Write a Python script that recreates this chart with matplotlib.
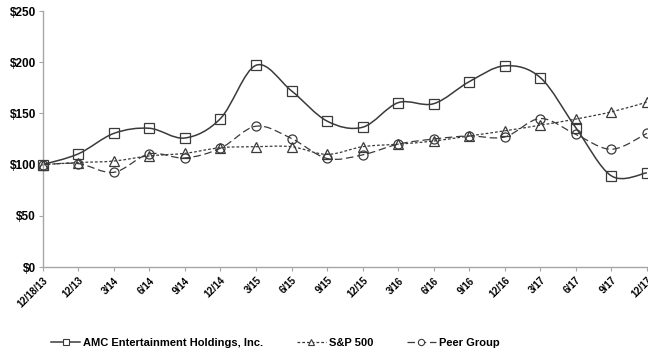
import numpy as np
import matplotlib
matplotlib.use("Agg")
import matplotlib.pyplot as plt
from matplotlib.path import Path
from matplotlib.patches import PathPatch
from matplotlib.lines import Line2D
import matplotlib.ticker as mtick

periodos = ["12/18/13", "12/13", "3/14", "6/14", "9/14", "12/14", "3/15", "6/15",
            "9/15", "12/15", "3/16", "6/16", "9/16", "12/16", "3/17", "6/17",
            "9/17", "12/17"]

amc = [100, 110.5, 130.5, 135.5, 126, 145, 197, 172, 142.5, 136.5, 160.5, 159.5,
       181, 196.5, 185, 136, 89, 92]
sp500 = [100, 102, 103.5, 108.5, 111, 116.5, 117.5, 117.5, 110, 117.5, 120, 123,
         128, 133, 138.5, 144.5, 151.5, 161]
peer = [100, 101, 92.5, 110.5, 106.5, 116, 137.5, 125.5, 106, 109.5, 120, 125,
        128, 127, 145, 129.5, 115, 130.5]

cor_linha = "#3a3a3a"
cor_eixo = "#a6a6a6"
fonte = ["Liberation Sans", "DejaVu Sans"]


def caminho_suave(x, y):
    # curva de Bezier que passa por todos os pontos (estilo "linha suavizada")
    x = np.asarray(x, float)
    y = np.asarray(y, float)
    pts = np.column_stack([x, y])
    n = len(pts)
    verts = [pts[0]]
    codes = [Path.MOVETO]
    for i in range(n - 1):
        p0 = pts[i - 1] if i > 0 else pts[i]
        p1 = pts[i]
        p2 = pts[i + 1]
        p3 = pts[i + 2] if i + 2 < n else pts[i + 1]
        c1 = p1 + (p2 - p0) / 6.0
        c2 = p2 - (p3 - p1) / 6.0
        verts += [c1, c2, p2]
        codes += [Path.CURVE4] * 3
    return Path(verts, codes)


fig = plt.figure(figsize=(6.48, 3.56), dpi=100)
ax = fig.add_axes([0.066, 0.25, 0.934, 0.719])

x = np.arange(len(periodos))
series = [
    (amc, "-", "s", "AMC Entertainment Holdings, Inc.", 1.1),
    (sp500, (0, (2.2, 1.6)), "^", "S&P 500", 0.9),
    (peer, (0, (6, 3)), "o", "Peer Group", 0.9),
]

handles = []
for valores, estilo, marcador, nome, lw in series:
    patch = PathPatch(caminho_suave(x, valores), fill=False, edgecolor=cor_linha,
                      linestyle=estilo, linewidth=lw, clip_on=False, zorder=2)
    ax.add_patch(patch)
    ax.plot(x, valores, linestyle="none", marker=marcador, markersize=6.5,
            markerfacecolor="none", markeredgecolor=cor_linha,
            markeredgewidth=0.9, clip_on=False, zorder=3)
    handles.append(Line2D([], [], color=cor_linha, linestyle=estilo, linewidth=lw,
                          marker=marcador, markersize=4.5, markerfacecolor="white",
                          markeredgecolor=cor_linha, markeredgewidth=0.8, label=nome))

ax.set_xlim(0, 17.03)
ax.set_ylim(0, 250)
ax.set_yticks(range(0, 251, 50))
ax.yaxis.set_major_formatter(mtick.StrMethodFormatter("${x:,.0f}"))
ax.set_xticks(x)
ax.set_xticklabels(periodos, rotation=45, ha="right", rotation_mode="anchor")

for lado in ["top", "right"]:
    ax.spines[lado].set_visible(False)
for lado in ["left", "bottom"]:
    ax.spines[lado].set_color(cor_eixo)
    ax.spines[lado].set_linewidth(1.0)

ax.tick_params(axis="y", length=3, width=0.8, color=cor_eixo, pad=2)
ax.tick_params(axis="x", length=3, width=0.8, color=cor_eixo, pad=3)
for rotulo in ax.get_yticklabels():
    rotulo.set_fontfamily(fonte)
    rotulo.set_fontweight("bold")
    rotulo.set_fontsize(8.5)
for rotulo in ax.get_xticklabels():
    rotulo.set_fontfamily(fonte)
    rotulo.set_fontweight("bold")
    rotulo.set_fontsize(7)

fig.legend(handles=handles, loc="center", bbox_to_anchor=(0.425, 0.036), ncol=3,
           frameon=False, handlelength=2.6, handletextpad=0.3, columnspacing=3.0,
           prop={"family": fonte, "weight": "bold", "size": 8})

fig.savefig("out.png", dpi=100)
